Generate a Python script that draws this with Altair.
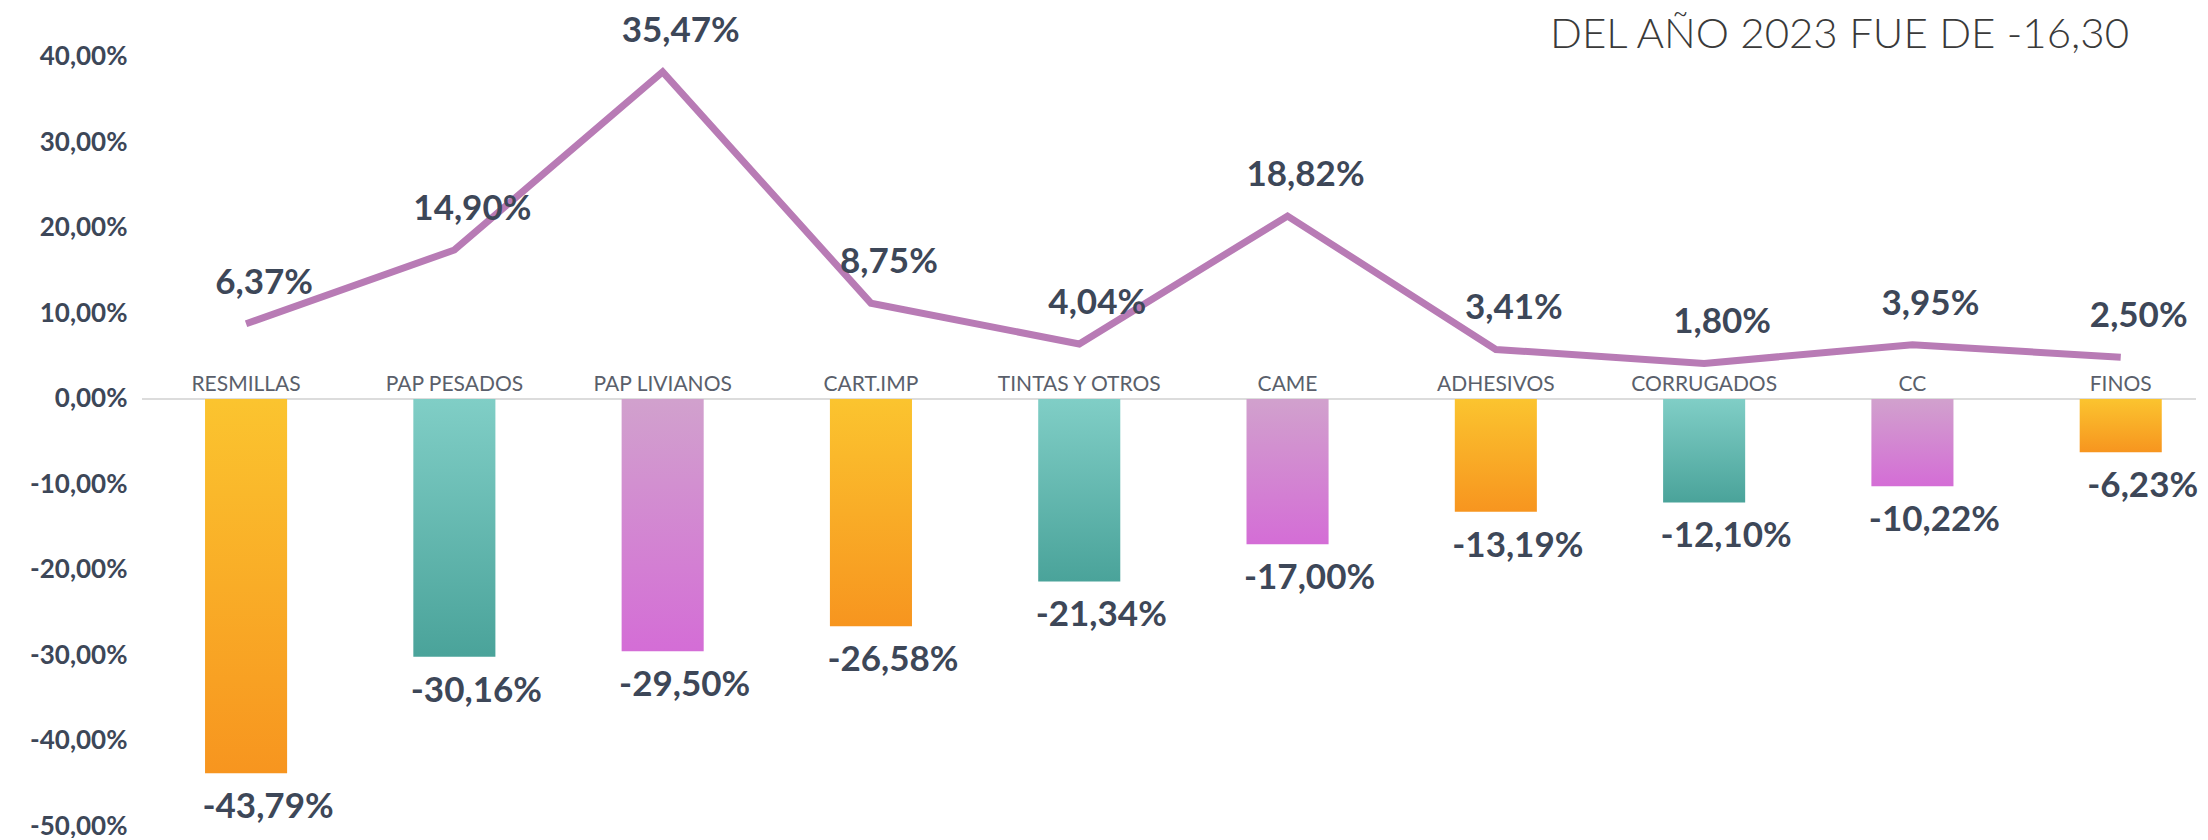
import altair as alt
import pandas as pd

categorias = ["RESMILLAS", "PAP PESADOS", "PAP LIVIANOS", "CART.IMP", "TINTAS Y OTROS",
              "CAME", "ADHESIVOS", "CORRUGADOS", "CC", "FINOS"]
variacion_barras = [-43.79, -30.16, -29.50, -26.58, -21.34, -17.00, -13.19, -12.10, -10.22, -6.23]
variacion_linea = [6.37, 14.90, 35.47, 8.75, 4.04, 18.82, 3.41, 1.80, 3.95, 2.50]
grupos = ["amarillo", "turquesa", "violeta", "amarillo", "turquesa", "violeta",
          "amarillo", "turquesa", "violeta", "amarillo"]
titulo = "DEL AÑO 2023 FUE DE -16,30"
ticks_y = [-50, -40, -30, -20, -10, 0, 10, 20, 30, 40]


def fmt(v):
    return f"{v:.2f}".replace(".", ",") + "%"


df = pd.DataFrame({
    "cat": categorias,
    "barra": variacion_barras,
    "linea": variacion_linea,
    "grupo": grupos,
    "lab_barra": [fmt(v) for v in variacion_barras],
    "lab_linea": [fmt(v) for v in variacion_linea],
})

W, H = 2054, 820
TXT = "#3d4758"

xscale = alt.Scale(paddingInner=0.606, paddingOuter=0.2335, align=0.648, round=False)
xenc = alt.X("cat:N", sort=categorias, scale=xscale, axis=None)
ybar_scale = alt.Scale(domain=[-50.18, 45.73], nice=False, zero=False)
yline_scale = alt.Scale(domain=[-51.85, 42.84], nice=False, zero=False)

yaxis = alt.Axis(values=ticks_y, orient="left", domain=False, ticks=False, grid=False,
                 labelFont="Lato", labelFontWeight="bold", labelFontSize=26,
                 labelColor=TXT, labelPadding=15, title=None,
                 labelExpr="(datum.value < 0 ? '-' : '') + replace(format(abs(datum.value), '.2f'), '.', ',') + '%'")


def grad(top, bottom):
    return alt.LinearGradient(gradient="linear", x1=0, y1=0, x2=0, y2=1,
                              stops=[alt.GradientStop(color=top, offset=0),
                                     alt.GradientStop(color=bottom, offset=1)])


colores = {
    "amarillo": ("#fbc42f", "#f7951f"),
    "turquesa": ("#80cec6", "#4aa39a"),
    "violeta": ("#d1a1cd", "#d46dd6"),
}

base = alt.Chart(df)

cero = base.mark_rule(color="#dcdcdc", strokeWidth=2).encode(
    y=alt.Y(datum=0, scale=ybar_scale, axis=yaxis),
    x=alt.value(0), x2=alt.value(W),
)

barras = []
for g, (c1, c2) in colores.items():
    barras.append(
        base.transform_filter(alt.datum.grupo == g)
        .mark_bar(color=grad(c1, c2))
        .encode(x=xenc, y=alt.Y("barra:Q", scale=ybar_scale, axis=yaxis))
    )

etiquetas_cat = base.mark_text(font="Lato", fontSize=21, color="#5a5f6b",
                               baseline="alphabetic", dy=-8).encode(
    x=xenc, y=alt.Y(datum=0, scale=ybar_scale), text="cat:N")

etiquetas_barra = base.mark_text(font="Lato", fontWeight="bold", fontSize=35, color=TXT,
                                 baseline="alphabetic", dy=45, dx=22).encode(
    x=xenc, y=alt.Y("barra:Q", scale=ybar_scale), text="lab_barra:N")

capa_barras = alt.layer(cero, *barras, etiquetas_cat, etiquetas_barra)

linea = base.mark_line(color="#b87bb5", strokeWidth=7, strokeJoin="miter").encode(
    x=xenc, y=alt.Y("linea:Q", scale=yline_scale, axis=None))

etiquetas_linea = base.mark_text(font="Lato", fontWeight="bold", fontSize=35, color=TXT,
                                 baseline="alphabetic", dy=-30, dx=18).encode(
    x=xenc, y=alt.Y("linea:Q", scale=yline_scale, axis=None), text="lab_linea:N")

capa_linea = alt.layer(linea, etiquetas_linea)

texto_titulo = alt.Chart(pd.DataFrame({"t": [titulo]})).mark_text(
    font="Lato", fontWeight=300, fontSize=42, color="#3a3a3a",
    align="right", baseline="alphabetic").encode(
    x=alt.value(1987), y=alt.value(40), text="t:N")

chart = alt.layer(capa_barras, capa_linea, texto_titulo).resolve_scale(
    y="independent").properties(
    width=W, height=H,
    background="white",
    autosize=alt.AutoSizeParams(type="none"),
    padding={"left": 134, "top": 0, "right": 4, "bottom": 10},
).configure_view(strokeWidth=0, stroke="transparent")

chart.save("out.html", embed_options={"renderer": "svg", "actions": False})
